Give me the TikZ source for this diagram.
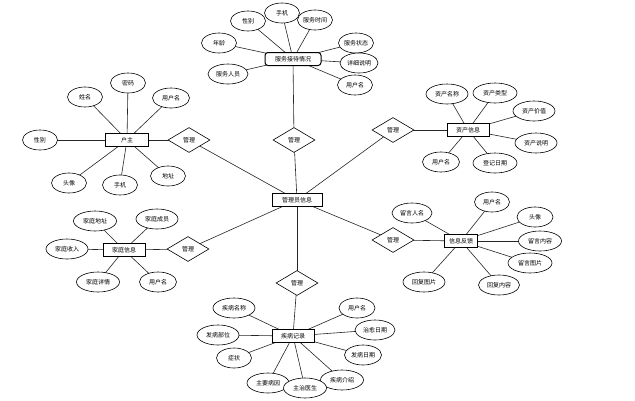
\documentclass[tikz,border=0pt]{standalone}
\usepackage{fontspec}
\newfontfamily\cjk{Noto Sans CJK SC}
\usetikzlibrary{shapes.geometric,backgrounds}
\begin{document}
\begin{tikzpicture}[x=1pt,y=-1pt,
 font=\cjk\fontsize{6}{7}\selectfont,
 attr/.style={draw=black,fill=white,ellipse,minimum width=35pt,minimum height=20pt,inner sep=0pt,line width=0.6pt},
 attrw/.style={attr,minimum width=42pt},
 ent/.style={draw=black,fill=white,rectangle,line width=1pt,minimum height=13pt,minimum width=42pt,inner sep=2pt},
 rel/.style={draw=black,fill=white,diamond,aspect=1.68,minimum width=42pt,minimum height=25pt,inner sep=0pt,line width=0.6pt},
 conn/.style={draw=black!85,line width=0.6pt}]
\useasboundingbox (0,0) rectangle (635,400);

% entities
\node[ent,minimum width=50pt] (adm) at (297,200) {管理员信息};
\node[ent,rounded corners=3pt,minimum width=56pt] (fw) at (293,59) {服务接待情况};
\node[ent,minimum width=43pt] (hz) at (127,140) {户主};
\node[ent] (jt) at (124,250) {家庭信息};
\node[ent] (zc) at (468,130) {资产信息};
\node[ent,minimum width=33pt] (fk) at (461,241) {信息反馈};
\node[ent] (jb) at (293,336) {疾病记录};

% relations
\node[rel] (r1) at (294,140) {管理};
\node[rel] (r2) at (189,140) {管理};
\node[rel] (r3) at (188,249) {管理};
\node[rel] (r4) at (393,130) {管理};
\node[rel] (r5) at (393,240) {管理};
\node[rel] (r6) at (297,283) {管理};

% attributes: service
\node[attr] (f1) at (248,21) {性别};
\node[attr] (f2) at (282,13) {手机};
\node[attr] (f3) at (315,20) {服务时间};
\node[attr] (f4) at (219,43) {年龄};
\node[attrw,minimum width=40pt] (f5) at (228,74) {服务人员};
\node[attr] (f6) at (356,43) {服务状态};
\node[attr,minimum width=38pt] (f7) at (359,63) {详细说明};
\node[attr] (f8) at (355,85) {用户名};

% attributes: huzhu
\node[attr] (h1) at (85,97) {姓名};
\node[attr] (h2) at (128,83) {密码};
\node[attr,minimum width=37pt] (h3) at (171,98) {用户名};
\node[attr] (h4) at (40,140) {性别};
\node[attr] (h5) at (69,183) {头像};
\node[attr] (h6) at (120,185) {手机};
\node[attr] (h7) at (168,176) {地址};

% attributes: family
\node[attrw,minimum width=43pt] (j1) at (95,221) {家庭地址};
\node[attrw] (j2) at (157,219) {家庭成员};
\node[attrw] (j3) at (67,249) {家庭收入};
\node[attrw,minimum width=43pt] (j4) at (98,282) {家庭详情};
\node[attr,minimum width=37pt] (j5) at (158,282) {用户名};

% attributes: assets
\node[attrw] (z1) at (447,94) {资产名称};
\node[attrw,minimum width=44pt] (z2) at (495,93) {资产类型};
\node[attrw] (z3) at (534,111) {资产价值};
\node[attrw] (z4) at (536,143) {资产说明};
\node[attr,minimum width=37pt] (z5) at (441,162) {用户名};
\node[attrw,minimum width=44pt] (z6) at (495,163) {登记日期};

% attributes: feedback
\node[attrw,minimum width=40pt] (k1) at (412,213) {留言人名};
\node[attr] (k2) at (492,202) {用户名};
\node[attr,minimum width=36pt] (k3) at (535,217) {头像};
\node[attrw,minimum width=43pt] (k4) at (540,241) {留言内容};
\node[attrw,minimum width=44pt] (k5) at (530,263) {留言图片};
\node[attrw] (k6) at (424,282) {回复图片};
\node[attrw,minimum width=41pt] (k7) at (499,285) {回复内容};

% attributes: disease
\node[attrw] (b1) at (234,308) {疾病名称};
\node[attrw] (b2) at (218,335) {发病部位};
\node[attr] (b3) at (234,358) {症状};
\node[attrw] (b4) at (268,383) {主要病因};
\node[attrw,minimum width=43pt] (b6) at (342,380) {疾病介绍};
\node[attrw,minimum width=43pt] (b5) at (305,388) {主治医生};
\node[attr,minimum width=36pt] (b7) at (357,308) {用户名};
\node[attrw,minimum width=40pt] (b8) at (375,330) {治愈日期};
\node[attrw,minimum width=37pt] (b9) at (363,355) {发病日期};

\begin{scope}[on background layer]
\fill[white] (0,0) rectangle (635,400);
% admin to relations
\foreach \r in {r1,r2,r3,r4,r5,r6} \draw[conn] (adm.center) -- (\r.center);
% relations to entities
\draw[conn] (r1.center) -- (fw.center);
\draw[conn] (r2.center) -- (hz.center);
\draw[conn] (r3.center) -- (jt.center);
\draw[conn] (r4.center) -- (zc.center);
\draw[conn] (r5.center) -- (fk.center);
\draw[conn] (r6.center) -- (jb.center);
% attributes
\foreach \a in {f1,f2,f3,f4,f5,f6,f7,f8} \draw[conn] (\a.center) -- (fw.center);
\foreach \a in {h1,h2,h3,h4,h5,h6,h7} \draw[conn] (\a.center) -- (hz.center);
\foreach \a in {j1,j2,j3,j4,j5} \draw[conn] (\a.center) -- (jt.center);
\foreach \a in {z1,z2,z3,z4,z5,z6} \draw[conn] (\a.center) -- (zc.center);
\foreach \a in {k1,k2,k3,k4,k5,k6,k7} \draw[conn] (\a.center) -- (fk.center);
\foreach \a in {b1,b2,b3,b4,b5,b6,b7,b8,b9} \draw[conn] (\a.center) -- (jb.center);
\end{scope}
\end{tikzpicture}
\end{document}
